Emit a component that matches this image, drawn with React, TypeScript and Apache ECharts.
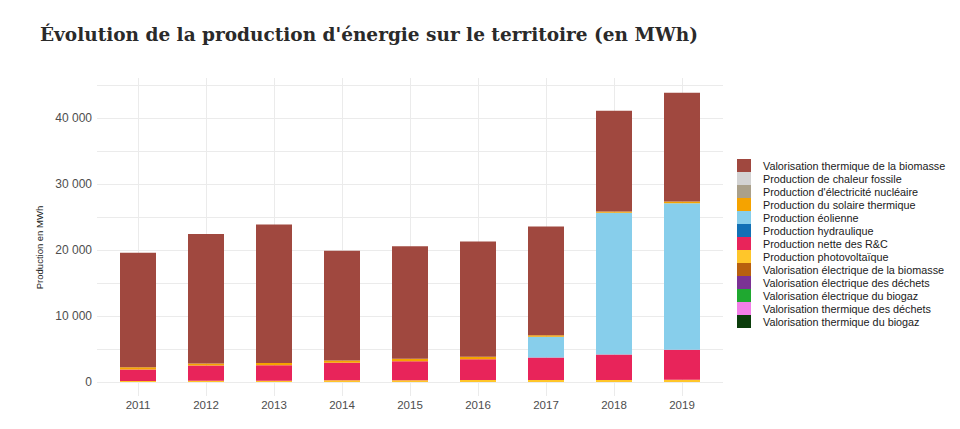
import React, { useEffect, useRef } from "react";
import * as echarts from "echarts";

const years = ["2011", "2012", "2013", "2014", "2015", "2016", "2017", "2018", "2019"];

// Series in legend order (top of stack first)
const thermiqueBiomasse = [17320, 19600, 21000, 16620, 17050, 17450, 16450, 15250, 16500];
const chaleurFossile = [0, 0, 0, 0, 0, 0, 0, 0, 0];
const nucleaire = [0, 0, 0, 0, 0, 0, 0, 0, 0];
const solaireThermique = [350, 320, 320, 350, 380, 380, 250, 200, 250];
const eolienne = [0, 0, 0, 0, 0, 0, 3150, 21480, 22200];
const hydraulique = [0, 0, 0, 0, 0, 0, 0, 0, 0];
const netteRC = [1750, 2300, 2350, 2650, 2900, 3150, 3400, 3870, 4530];
const photovoltaique = [150, 200, 200, 250, 250, 300, 300, 300, 350];
const elecBiomasse = [0, 0, 0, 0, 0, 0, 0, 0, 0];
const elecDechets = [0, 0, 0, 0, 0, 0, 0, 0, 0];
const elecBiogaz = [0, 0, 0, 0, 0, 0, 0, 0, 0];
const thermDechets = [0, 0, 0, 0, 0, 0, 0, 0, 0];
const thermBiogaz = [0, 0, 0, 0, 0, 0, 0, 0, 0];

const seriesNames = [
  "Valorisation thermique de la biomasse",
  "Production de chaleur fossile",
  "Production d'électricité nucléaire",
  "Production du solaire thermique",
  "Production éolienne",
  "Production hydraulique",
  "Production nette des R&C",
  "Production photovoltaïque",
  "Valorisation électrique de la biomasse",
  "Valorisation électrique des déchets",
  "Valorisation électrique du biogaz",
  "Valorisation thermique des déchets",
  "Valorisation thermique du biogaz",
];
const seriesData = [
  thermiqueBiomasse, chaleurFossile, nucleaire, solaireThermique, eolienne, hydraulique,
  netteRC, photovoltaique, elecBiomasse, elecDechets, elecBiogaz, thermDechets, thermBiogaz,
];
const seriesColors = [
  "#a0483f", "#d3d3d3", "#aaa08a", "#f5a300", "#87ceeb", "#1270b5", "#e8245a",
  "#ffc62a", "#b8600e", "#7b3294", "#1fa830", "#f37fe8", "#0b3d0b",
];

const yTicks = [0, 10000, 20000, 30000, 40000];
const fmt = (v: number) => String(v).replace(/\B(?=(\d{3})+(?!\d))/g, " ");

export default function App() {
  const ref = useRef<HTMLDivElement>(null);
  useEffect(() => {
    if (!ref.current) return;
    const chart = echarts.init(ref.current, undefined, { renderer: "svg" });
    const order = seriesNames.map((_, i) => i).reverse(); // bottom of stack first
    const centers: string[] = [];
    for (let i = 0; i < years.length * 2 + 1; i++) centers.push("c" + i);
    chart.setOption({
      animation: false,
      backgroundColor: "#ffffff",
      title: {
        text: "Évolution de la production d'énergie sur le territoire (en MWh)",
        left: 35,
        top: 20,
        textStyle: { fontFamily: "DejaVu Serif", fontWeight: "bold", fontSize: 18.5, color: "#2a2a2a" },
      },
      legend: {
        orient: "vertical",
        left: 732,
        top: 154,
        itemWidth: 14,
        itemHeight: 13,
        itemGap: 0,
        icon: "rect",
        data: seriesNames,
        selectedMode: false,
        textStyle: { fontFamily: "Liberation Sans", fontSize: 10.8, color: "#1a1a1a", padding: [0, 0, 0, 7] },
      },
      grid: [
        { left: 104, width: 612, top: 85, height: 297 },
        { left: 104, width: 612, top: 78, height: 318 },
        { left: 97, width: 626, top: 85, height: 297 },
      ],
      xAxis: [
        {
          type: "category",
          gridIndex: 0,
          data: years,
          axisLine: { show: false },
          axisTick: { show: false },
          splitLine: { show: false },
          axisLabel: { color: "#4d4d4d", fontFamily: "Liberation Sans", fontSize: 11.5, margin: 17 },
        },
        {
          type: "category",
          gridIndex: 1,
          boundaryGap: false,
          data: centers,
          axisLine: { show: false },
          axisTick: { show: false },
          axisLabel: { show: false },
          splitLine: {
            show: true,
            interval: (i: number) => i % 2 === 1,
            lineStyle: { color: "#ebebeb", width: 1 },
          },
        },
        {
          type: "category",
          gridIndex: 2,
          data: years,
          show: false,
        },
      ],
      yAxis: [
        { type: "value", gridIndex: 0, min: 0, max: 45000, show: false },
        { type: "value", gridIndex: 1, min: 0, max: 1, show: false },
        {
          type: "value",
          gridIndex: 2,
          min: 0,
          max: 45000,
          interval: 5000,
          name: "Production en MWh",
          nameLocation: "middle",
          nameGap: 50,
          nameTextStyle: { fontFamily: "Liberation Sans", fontSize: 9.5, color: "#1a1a1a", padding: [0, 28, 0, 0] },
          axisLine: { show: false },
          axisTick: { show: false },
          axisLabel: {
            color: "#4d4d4d",
            fontFamily: "Liberation Sans",
            fontSize: 12,
            margin: 5,
            formatter: (v: number) => (yTicks.indexOf(v) >= 0 ? fmt(v) : ""),
          },
          splitLine: { show: true, lineStyle: { color: "#ebebeb", width: 1 } },
        },
      ],
      series: order.map((i) => ({
        name: seriesNames[i],
        type: "bar",
        stack: "total",
        xAxisIndex: 0,
        yAxisIndex: 0,
        barWidth: 36,
        itemStyle: { color: seriesColors[i] },
        data: seriesData[i],
      })),
    });
    return () => chart.dispose();
  }, []);
  return <div ref={ref} style={{ position: "absolute", left: 0, top: 0, width: 960, height: 429 }} />;
}
